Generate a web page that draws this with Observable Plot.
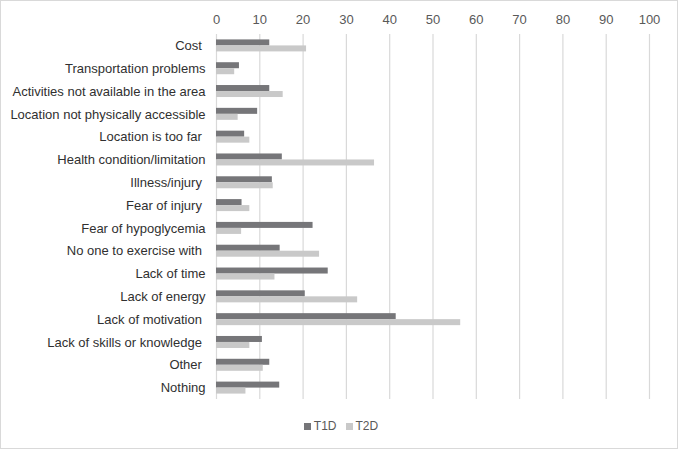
<!DOCTYPE html>
<html>
<head>
<meta charset="utf-8">
<script src="https://cdn.jsdelivr.net/npm/d3@7"></script>
<script src="https://cdn.jsdelivr.net/npm/@observablehq/plot@0.6"></script>
<style>
  html, body { margin: 0; padding: 0; background: #fff; }
  #frame { box-sizing: border-box; width: 678px; height: 449px; border: 1px solid #d9d9d9; position: relative; font-family: "Liberation Sans", Arial, sans-serif; }
  #legend { position: absolute; top: 418px; left: 0; width: 100%; display: flex; justify-content: center; gap: 9px; font-size: 12px; color: #595959; padding-left: 4px; box-sizing: border-box; }
  #legend span.item { display: flex; align-items: center; gap: 3px; }
  #legend span.sw { display: inline-block; width: 7px; height: 7px; }
  svg { display: block; }
</style>
</head>
<body>
<div id="frame"><div id="chart"></div><div id="legend"></div></div>
<script>
const categories = [
  "Cost\u00a0", "Transportation problems", "Activities not available in the area",
  "Location not physically accessible", "Location is too far\u00a0", "Health condition/limitation",
  "Illness/injury\u00a0", "Fear of injury\u00a0", "Fear of hypoglycemia", "No one to exercise with\u00a0",
  "Lack of time", "Lack of energy", "Lack of motivation\u00a0", "Lack of skills or knowledge\u00a0",
  "Other\u00a0", "Nothing"
];
const t1d = [12.3, 5.3, 12.3, 9.5, 6.5, 15.2, 12.9, 5.9, 22.3, 14.7, 25.8, 20.5, 41.5, 10.6, 12.3, 14.6];
const t2d = [20.8, 4.2, 15.4, 5.0, 7.7, 36.5, 13.1, 7.7, 5.8, 23.8, 13.5, 32.6, 56.4, 7.7, 10.8, 6.8];
const xTicks = [0, 10, 20, 30, 40, 50, 60, 70, 80, 90, 100];
const seriesNames = ["T1D", "T2D"];
const seriesColors = ["#767679", "#c9c9c9"];

const rows1 = categories.map((c, i) => ({category: c, value: t1d[i]}));
const rows2 = categories.map((c, i) => ({category: c, value: t2d[i]}));

const W = 676, H = 402, mTop = 33, mBottom = 4;
const step = (H - mTop - mBottom) / categories.length;
const barH = 6;

const chart = Plot.plot({
  width: W,
  height: H,
  marginTop: mTop,
  marginBottom: mBottom,
  marginLeft: 215,
  marginRight: 28,
  style: {fontFamily: "Liberation Sans, Arial, sans-serif", background: "#fff"},
  x: {domain: [0, 100], ticks: xTicks, axis: null},
  y: {domain: categories, padding: 0, round: false, axis: null},
  marks: [
    Plot.gridX(xTicks, {stroke: "#d9d9d9", strokeOpacity: 1, strokeWidth: 1.2}),
    Plot.axisX(xTicks, {anchor: "top", tickSize: 0, tickPadding: 11, fontSize: 13, color: "#595959", label: null}),
    Plot.axisY({anchor: "left", tickSize: 0, tickPadding: 11, fontSize: 13, color: "#303030", label: null}),
    Plot.barX(rows1, {x: "value", y: "category", fill: seriesColors[0], insetTop: step / 2 - barH, insetBottom: step / 2}),
    Plot.barX(rows2, {x: "value", y: "category", fill: seriesColors[1], insetTop: step / 2, insetBottom: step / 2 - barH})
  ]
});
chart.querySelectorAll("text").forEach(t => t.setAttribute("xml:space", "preserve"));
document.getElementById("chart").appendChild(chart);

const legend = document.getElementById("legend");
seriesNames.forEach((n, i) => {
  const item = document.createElement("span");
  item.className = "item";
  const sw = document.createElement("span");
  sw.className = "sw";
  sw.style.background = seriesColors[i];
  item.appendChild(sw);
  item.appendChild(document.createTextNode(n));
  legend.appendChild(item);
});
</script>
</body>
</html>
